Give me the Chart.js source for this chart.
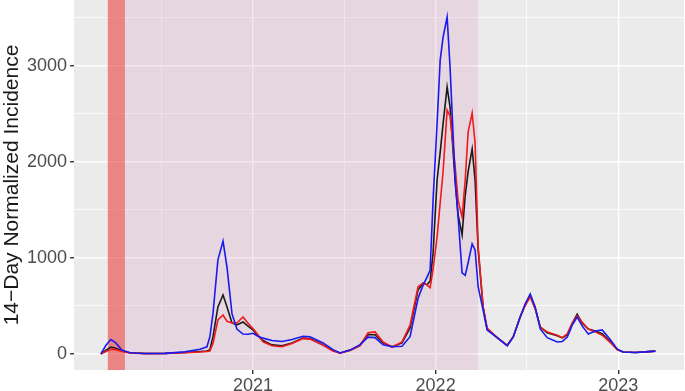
<!DOCTYPE html>
<html>
<head>
<meta charset="utf-8">
<script src="https://cdn.jsdelivr.net/npm/chart.js@4"></script>
<style>
  html, body { margin: 0; padding: 0; background: #fff; }
  #wrap { width: 685px; height: 391px; }
</style>
</head>
<body>
<div id="wrap"><canvas id="incidenceChart" width="685" height="391"></canvas></div>
<script>
// ── Data (dates as decimal years) ──────────────────────
const weeks = [
    2020.167, 2020.195, 2020.222, 2020.249, 2020.282, 2020.326, 2020.408, 2020.518, 2020.627, 2020.710,
    2020.748, 2020.764, 2020.781, 2020.808, 2020.836, 2020.858, 2020.885, 2020.912, 2020.945, 2020.973,
    2021.000, 2021.027, 2021.055, 2021.104, 2021.159, 2021.214, 2021.274, 2021.312, 2021.384, 2021.438,
    2021.477, 2021.532, 2021.586, 2021.630, 2021.668, 2021.712, 2021.762, 2021.816, 2021.860, 2021.904,
    2021.932, 2021.953, 2021.970, 2021.986, 2022.008, 2022.025, 2022.041, 2022.063, 2022.079, 2022.107,
    2022.123, 2022.145, 2022.162, 2022.178, 2022.200, 2022.216, 2022.233, 2022.260, 2022.282, 2022.337,
    2022.392, 2022.425, 2022.463, 2022.490, 2022.518, 2022.545, 2022.573, 2022.611, 2022.666, 2022.693,
    2022.721, 2022.748, 2022.775, 2022.803, 2022.836, 2022.874, 2022.912, 2022.956, 2022.995, 2023.027,
    2023.093, 2023.148, 2023.203
];

const blackSeries = [
    0, 40, 72, 60, 30, 12, 5, 6, 15, 25,
    30, 45, 180, 490, 615, 490, 323, 302, 333, 290,
    250, 190, 140, 95, 85, 115, 165, 160, 95, 35,
    10, 40, 95, 200, 200, 115, 75, 115, 270, 667,
    740, 720, 760, 1050, 1812, 2100, 2400, 2780, 2573, 1800,
    1450, 1240, 1650, 1900, 2135, 1812, 1083, 490, 260, 170,
    90, 177, 385, 510, 610, 480, 280, 220, 190, 167,
    200, 320, 415, 320, 260, 240, 210, 130, 45, 20,
    15, 22, 30
];

const redSeries = [
    0, 25, 48, 45, 25, 10, 4, 5, 12, 20,
    25, 30, 110, 354, 406, 340, 323, 323, 385, 320,
    265, 200, 125, 85, 75, 110, 160, 155, 90, 30,
    8, 35, 85, 220, 230, 125, 70, 125, 300, 700,
    740, 720, 690, 880, 1220, 1573, 1900, 2540, 2480, 1948,
    1600, 1427, 1812, 2312, 2510, 2198, 1115, 490, 270, 170,
    90, 177, 385, 500, 594, 470, 280, 230, 195, 170,
    210, 320, 396, 330, 260, 230, 195, 120, 42, 20,
    15, 22, 30
];

const blueSeries = [
    0, 90, 150, 115, 40, 12, 5, 6, 22, 50,
    75, 180, 420, 980, 1175, 900, 420, 260, 208, 205,
    215, 185, 165, 140, 130, 150, 185, 180, 115, 45,
    10, 40, 95, 175, 170, 95, 75, 80, 180, 580,
    719, 800, 875, 1600, 2400, 3060, 3300, 3510, 2990, 1812,
    1430, 844, 818, 950, 1146, 1083, 698, 458, 250, 170,
    85, 177, 385, 520, 625, 490, 260, 170, 125, 130,
    177, 300, 385, 290, 208, 240, 250, 150, 50, 20,
    15, 22, 30
];

const yGrid = [0, 500, 1000, 1500, 2000, 2500, 3000, 3500];
const xGrid = [2020.5, 2021, 2021.5, 2022, 2022.5, 2023];

const lockdown = [2020.205, 2020.299];   // red band
const period   = [2020.299, 2022.233];   // pink shaded period

// ── Panel background + shaded periods ──────────────────
const panelPlugin = {
    id: "panel",
    beforeDraw(chart) {
        const { ctx, chartArea: a } = chart;
        ctx.save();
        ctx.fillStyle = "#EBEBEB";
        ctx.fillRect(a.left, a.top, a.width, a.height);
        ctx.restore();
    },
    beforeDatasetsDraw(chart) {
        const { ctx, chartArea: a } = chart;
        const xs = chart.scales.x;
        ctx.save();
        ctx.beginPath();
        ctx.rect(a.left, a.top, a.width, a.height);
        ctx.clip();

        let x0 = xs.getPixelForValue(period[0]);
        let x1 = xs.getPixelForValue(period[1]);
        ctx.fillStyle = "rgba(215, 140, 185, 0.22)";
        ctx.fillRect(x0, a.top, x1 - x0, a.height);

        x0 = xs.getPixelForValue(lockdown[0]);
        x1 = xs.getPixelForValue(lockdown[1]);
        ctx.fillStyle = "rgba(235, 70, 70, 0.62)";
        ctx.fillRect(x0, a.top, x1 - x0, a.height);
        ctx.restore();
    }
};

const pts = vals => weeks.map((w, i) => ({ x: w, y: vals[i] }));
const tickFont = { family: "'Liberation Sans', Arial, sans-serif", size: 18 };

new Chart(document.getElementById("incidenceChart"), {
    type: "line",
    data: {
        datasets: [
            { data: pts(blueSeries),  borderColor: "#1A1AF0", borderWidth: 1.6 },
            { data: pts(redSeries),   borderColor: "#F01A1A", borderWidth: 1.6 },
            { data: pts(blackSeries), borderColor: "#1A1A1A", borderWidth: 1.6 }
        ]
    },
    options: {
        responsive: false,
        animation: false,
        events: [],
        layout: { padding: { top: 0, right: 1, bottom: 0, left: 0 } },
        elements: { point: { radius: 0 }, line: { tension: 0 } },
        plugins: { legend: { display: false }, tooltip: { enabled: false } },
        scales: {
            x: {
                type: "linear",
                min: 2020.02,
                max: 2023.36,
                afterBuildTicks: s => { s.ticks = xGrid.map(v => ({ value: v })); },
                afterFit: s => { s.height = 21; s.paddingLeft = 0; s.paddingRight = 0; },
                border: { display: false },
                grid: {
                    color: "#FFFFFF",
                    lineWidth: c => Number.isInteger(c.tick.value) ? 1.4 : 0.7,
                    tickColor: c => Number.isInteger(c.tick.value) ? "#333333" : "rgba(0,0,0,0)",
                    tickLength: 4
                },
                ticks: {
                    color: "#4D4D4D",
                    font: tickFont,
                    padding: 1,
                    maxRotation: 0,
                    autoSkip: false,
                    callback: v => Number.isInteger(v) ? String(v) : ""
                }
            },
            y: {
                min: -167,
                max: 3687,
                afterBuildTicks: s => { s.ticks = yGrid.map(v => ({ value: v })); },
                afterFit: s => { s.width = 74; s.paddingTop = 0; s.paddingBottom = 0; },
                border: { display: false },
                grid: {
                    color: "#FFFFFF",
                    lineWidth: c => c.tick.value % 1000 === 0 ? 1.4 : 0.7,
                    tickColor: c => c.tick.value % 1000 === 0 ? "#333333" : "rgba(0,0,0,0)",
                    tickLength: 4
                },
                ticks: {
                    color: "#4D4D4D",
                    font: tickFont,
                    padding: 3,
                    autoSkip: false,
                    callback: v => v % 1000 === 0 ? String(v) : ""
                },
                title: {
                    display: true,
                    text: "14\u2212Day Normalized Incidence",
                    color: "#1A1A1A",
                    font: { family: "'Liberation Sans', Arial, sans-serif", size: 21 },
                    padding: { top: 0, bottom: 0 }
                }
            }
        }
    },
    plugins: [panelPlugin]
});
</script>
</body>
</html>
